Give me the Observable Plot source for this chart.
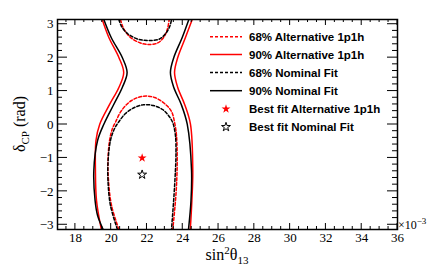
<!DOCTYPE html>
<html><head><meta charset="utf-8">
<script src="https://cdn.jsdelivr.net/npm/d3@7"></script>
<script src="https://cdn.jsdelivr.net/npm/@observablehq/plot@0.6"></script>
<style>body{margin:0;background:#fff} #chart svg{display:block}</style>
</head><body><div id="chart"></div>
<script>
const PI = Math.PI;
// tick values
const xMajorTicks = [18, 20, 22, 24, 26, 28, 30, 32, 34, 36];
const yMajorTicks = [-3, -2, -1, 0, 1, 2, 3];
const xMinorTicks = d3.range(17.5, 36.01, 0.5);
const yMinorTicks = d3.range(-3, 3.01, 0.2);

// contours: [sin^2 theta13 (x1e-3), deltaCP (rad)]
const alt68Top = [[20.52,PI],[20.69,2.872],[21.08,2.603],[21.64,2.438],[22.09,2.393],[22.59,2.438],[22.93,2.603],[23.15,2.872],[23.24,PI]];
const alt68Bottom = [[20.43,-PI],[20.02,-2.423],[19.85,-1.675],[19.82,-1.077],[19.91,-0.478],[20.07,-0.12],[20.24,0.069],[20.58,0.419],[21.14,0.718],[21.81,0.847],[22.43,0.808],[22.98,0.628],[23.37,0.389],[23.54,0.069],[23.65,-0.329],[23.69,-1.077],[23.65,-1.825],[23.57,-2.423],[23.44,-PI]];
const alt90Left = [[19.50,PI],[19.87,2.603],[20.43,2.005],[20.70,1.556],[20.43,1.107],[19.92,0.607],[19.36,0.009],[19.15,-0.479],[19.12,-1.376],[19.18,-2.274],[19.45,-PI]];
const alt90Right = [[24.53,PI],[24.15,2.603],[23.72,2.005],[23.54,1.556],[23.72,1.107],[24.10,0.607],[24.43,0.009],[24.56,-1.376],[24.51,-2.274],[24.42,-PI]];
const nom68Top = [[20.43,PI],[20.58,2.932],[20.91,2.723],[21.47,2.558],[22.09,2.513],[22.70,2.558],[23.09,2.753],[23.29,2.962],[23.37,PI]];
const nom68Bottom = [[20.35,-PI],[19.96,-2.423],[19.82,-1.675],[19.83,-1.077],[19.96,-0.478],[20.19,-0.12],[20.41,0.069],[20.80,0.329],[21.30,0.509],[21.81,0.589],[22.36,0.568],[22.87,0.449],[23.20,0.269],[23.43,0.069],[23.59,-0.329],[23.62,-0.928],[23.59,-1.376],[23.51,-2.124],[23.37,-PI]];
const nom90Left = [[19.59,PI],[20.00,2.603],[20.62,2.005],[20.89,1.556],[20.62,1.107],[20.15,0.607],[19.59,0.009],[19.24,-0.479],[19.03,-1.376],[19.10,-2.274],[19.24,-2.723],[19.55,-PI]];
const nom90Right = [[24.34,PI],[23.97,2.603],[23.50,2.005],[23.31,1.556],[23.50,1.107],[23.91,0.607],[24.25,0.009],[24.49,-1.376],[24.46,-2.274],[24.32,-PI]];

const bestAlt = [[21.73, -1.0]];
const bestNom = [[21.73, -1.5]];

const legendLabels = ["68% Alternative 1p1h", "90% Alternative 1p1h", "68% Nominal Fit", "90% Nominal Fit", "Best fit Alternative 1p1h", "Best fit Nominal Fit"];
const legendColors = ["#ff0000", "#ff0000", "#000000", "#000000", "#ff0000", "#000000"];
const legendKinds = ["dash", "solid", "dash", "solid", "starFilled", "starOpen"];

const W = 442, H = 273, mL = 57, mR = 45, mT = 19, mB = 44;
const RED = "#ff0000", BLK = "#000000", DASH = "3,2";
const STAR_R = 2.8;

const series = [
  {data: alt68Top, color: RED, dash: DASH},
  {data: alt68Bottom, color: RED, dash: DASH},
  {data: alt90Left, color: RED, dash: null},
  {data: alt90Right, color: RED, dash: null},
  {data: nom68Top, color: BLK, dash: DASH},
  {data: nom68Bottom, color: BLK, dash: DASH},
  {data: nom90Left, color: BLK, dash: null},
  {data: nom90Right, color: BLK, dash: null}
];

const chart = Plot.plot({
  width: W, height: H, marginLeft: mL, marginRight: mR, marginTop: mT, marginBottom: mB,
  style: {fontFamily: "Liberation Serif", fontSize: "13px", background: "white", color: "black"},
  x: {domain: [17, 36]},
  y: {domain: [-PI, PI]},
  marks: [
    Plot.axisX({ticks: xMajorTicks, tickSize: 0, tickPadding: 3, label: null, fontSize: 13, tickFormat: d => String(d)}),
    Plot.axisY({ticks: yMajorTicks, tickSize: 0, tickPadding: 4, label: null, fontSize: 13, tickFormat: d => (d < 0 ? "−" : "") + Math.abs(d)}),
    ...series.map(s => Plot.line(s.data, {x: d => d[0], y: d => d[1], stroke: s.color, strokeWidth: 1.5, strokeDasharray: s.dash, curve: "catmull-rom", clip: true})),
    Plot.dot(bestAlt, {x: d => d[0], y: d => d[1], symbol: "star", fill: RED, stroke: "none", r: STAR_R}),
    Plot.dot(bestNom, {x: d => d[0], y: d => d[1], symbol: "star", fill: "none", stroke: BLK, strokeWidth: 1, r: STAR_R}),
    Plot.frame({stroke: BLK, strokeWidth: 1.5})
  ]
});
document.getElementById("chart").appendChild(chart);

const svg = d3.select(chart);
const sx = chart.scale("x"), sy = chart.scale("y");
const fLeft = mL, fRight = W - mR, fTop = mT, fBottom = H - mB;
const tg = svg.append("g").attr("stroke", BLK).attr("stroke-width", 1);
const isMaj = (v, arr) => arr.some(m => Math.abs(m - v) < 1e-6);
xMinorTicks.forEach(v => {
  const px = sx.apply(v), len = isMaj(v, xMajorTicks) ? 6 : 3;
  tg.append("line").attr("x1", px).attr("x2", px).attr("y1", fBottom).attr("y2", fBottom - len);
  tg.append("line").attr("x1", px).attr("x2", px).attr("y1", fTop).attr("y2", fTop + len);
});
yMinorTicks.forEach(v => {
  const py = sy.apply(v), len = isMaj(v, yMajorTicks) ? 10 : 5;
  tg.append("line").attr("x1", fLeft).attr("x2", fLeft + len).attr("y1", py).attr("y2", py);
  tg.append("line").attr("x1", fRight).attr("x2", fRight - len).attr("y1", py).attr("y2", py);
});

// axis titles
const xt = svg.append("text").attr("x", (fLeft + fRight) / 2).attr("y", 260).attr("text-anchor", "middle")
  .attr("font-family", "Liberation Serif").attr("font-size", 16).attr("fill", BLK);
xt.append("tspan").text("sin");
xt.append("tspan").attr("font-size", 11).attr("dy", -6).text("2");
xt.append("tspan").attr("dy", 6).text("θ");
xt.append("tspan").attr("font-size", 11).attr("dy", 4).text("13");

const yt = svg.append("text").attr("transform", `translate(25,${(fTop + fBottom) / 2}) rotate(-90)`).attr("text-anchor", "middle")
  .attr("font-family", "Liberation Serif").attr("font-size", 16).attr("fill", BLK);
yt.append("tspan").text("δ");
yt.append("tspan").attr("font-size", 11).attr("dy", 4).text("CP");
yt.append("tspan").attr("dy", -4).text(" (rad)");

const ex = svg.append("text").attr("x", fRight + 1).attr("y", 229).attr("text-anchor", "start")
  .attr("font-family", "Liberation Serif").attr("font-size", 12).attr("fill", BLK);
ex.append("tspan").text("×10");
ex.append("tspan").attr("font-size", 9).attr("dy", -5).text("−3");

// legend
const lg = svg.append("g");
const rowY = [36.7, 54.5, 72.5, 90.7, 109, 127];
legendLabels.forEach((lab, i) => {
  const y = rowY[i], k = legendKinds[i], c = legendColors[i];
  if (k === "dash" || k === "solid") {
    lg.append("line").attr("x1", 210).attr("x2", 242).attr("y1", y).attr("y2", y)
      .attr("stroke", c).attr("stroke-width", 1.5).attr("stroke-dasharray", k === "dash" ? DASH : null);
  } else {
    lg.append("path").attr("d", d3.symbol(d3.symbolStar, Math.PI * STAR_R * STAR_R)())
      .attr("transform", `translate(226,${y})`)
      .attr("fill", k === "starFilled" ? c : "none").attr("stroke", k === "starFilled" ? "none" : c).attr("stroke-width", 1);
  }
  lg.append("text").attr("x", 249).attr("y", y).attr("dy", "0.36em").attr("text-anchor", "start")
    .attr("font-family", "Liberation Sans").attr("font-weight", "bold").attr("font-size", 11.5).attr("fill", BLK).text(lab);
});
</script>
</body></html>
